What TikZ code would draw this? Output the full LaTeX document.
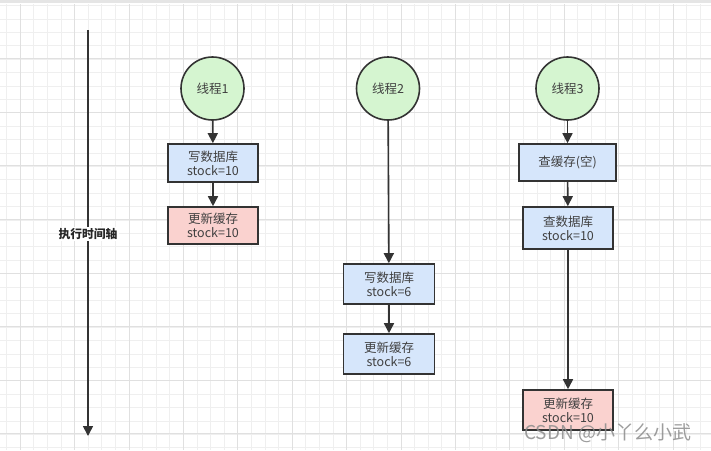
\documentclass[tikz,border=0pt]{standalone}
\usepackage{fontspec}
\setmainfont{Noto Sans CJK SC}
\usetikzlibrary{arrows.meta}
\definecolor{gridminor}{HTML}{EFEFEF}
\definecolor{gridmajor}{HTML}{E0E0E0}
\definecolor{lineclr}{HTML}{333333}
\definecolor{greenfill}{HTML}{D5F5D0}
\definecolor{bluefill}{HTML}{D6E6FB}
\definecolor{redfill}{HTML}{FAD2CF}
\tikzset{
  thread/.style={circle, draw=lineclr, line width=1.6pt, fill=greenfill, minimum size=63pt, inner sep=0pt, font=\fontsize{12.5}{14}\selectfont, text=black!75},
  bluebox/.style={rectangle, draw=lineclr, line width=1.6pt, fill=bluefill, minimum width=90pt, minimum height=38pt, inner sep=1pt, align=center, font=\fontsize{12.5}{14}\selectfont, text=black!75},
  redbox/.style={bluebox, fill=redfill},
  conn/.style={draw=lineclr, line width=1.6pt, -{Triangle[length=10pt,width=10pt]}},
}
\begin{document}
\begin{tikzpicture}[x=1pt,y=-1pt]
\useasboundingbox (0,0) rectangle (711,450);
\fill[white] (0,0) rectangle (711,450);
% grid
\foreach \i in {0,...,52} {
  \pgfmathsetmacro{\gx}{6.5+13.6*\i}
  \draw[gridminor, line width=0.6pt] (\gx,4) -- (\gx,450);
}
\foreach \i in {0,...,33} {
  \pgfmathsetmacro{\gy}{5.5+13.4*\i}
  \draw[gridminor, line width=0.6pt] (0,\gy) -- (711,\gy);
}
\foreach \i in {0,...,13} {
  \pgfmathsetmacro{\gx}{20.1+54.4*\i}
  \draw[gridmajor, line width=0.8pt] (\gx,4) -- (\gx,450);
}
\foreach \i in {0,...,8} {
  \pgfmathsetmacro{\gy}{58.5+53.6*\i}
  \draw[gridmajor, line width=0.8pt] (0,\gy) -- (711,\gy);
}
\fill[black!10] (0,0) rectangle (711,3);

% timeline
\coordinate (tstart) at (88,30);
\coordinate (tend) at (88,436);
\draw[conn] (tstart) -- (tend);
\node[fill=white, inner sep=1pt, font=\fontsize{11.8}{13}\selectfont\bfseries, text=black!85] (tlabel) at (88,234) {执行时间轴};

% thread 1
\node[thread] (t1) at (212.5,88.5) {线程1};
\node[bluebox, minimum width=90pt, minimum height=38pt] (w1) at (213,163) {写数据库\\stock=10};
\node[redbox, minimum width=90pt, minimum height=37pt] (c1) at (213,225.5) {更新缓存\\stock=10};
\draw[conn] (t1) -- (w1);
\draw[conn] (w1) -- (c1);

% thread 2
\node[thread] (t2) at (388,88.5) {线程2};
\node[bluebox, minimum width=91pt, minimum height=40pt] (w2) at (389,284) {写数据库\\stock=6};
\node[bluebox, minimum width=91pt, minimum height=40pt] (c2) at (389,354) {更新缓存\\stock=6};
\draw[conn] (t2) -- (w2);
\draw[conn] (w2) -- (c2);

% thread 3
\node[thread] (t3) at (567.5,88.5) {线程3};
\node[bluebox, minimum width=97pt, minimum height=37pt] (q3) at (567.5,162.5) {查缓存(空)};
\node[bluebox, minimum width=90pt, minimum height=42pt] (d3) at (568,228) {查数据库\\stock=10};
\node[redbox, minimum width=90pt, minimum height=40pt] (c3) at (568,410) {更新缓存\\stock=10};
\draw[conn] (t3) -- (q3);
\draw[conn] (q3) -- (d3);
\draw[conn] (d3) -- (c3);

% watermark
\node[anchor=west, inner sep=0pt, font=\fontsize{19}{21}\selectfont, text=black!45, opacity=0.85] (wm) at (524,433) {CSDN @小丫么小武};
\end{tikzpicture}
\end{document}
